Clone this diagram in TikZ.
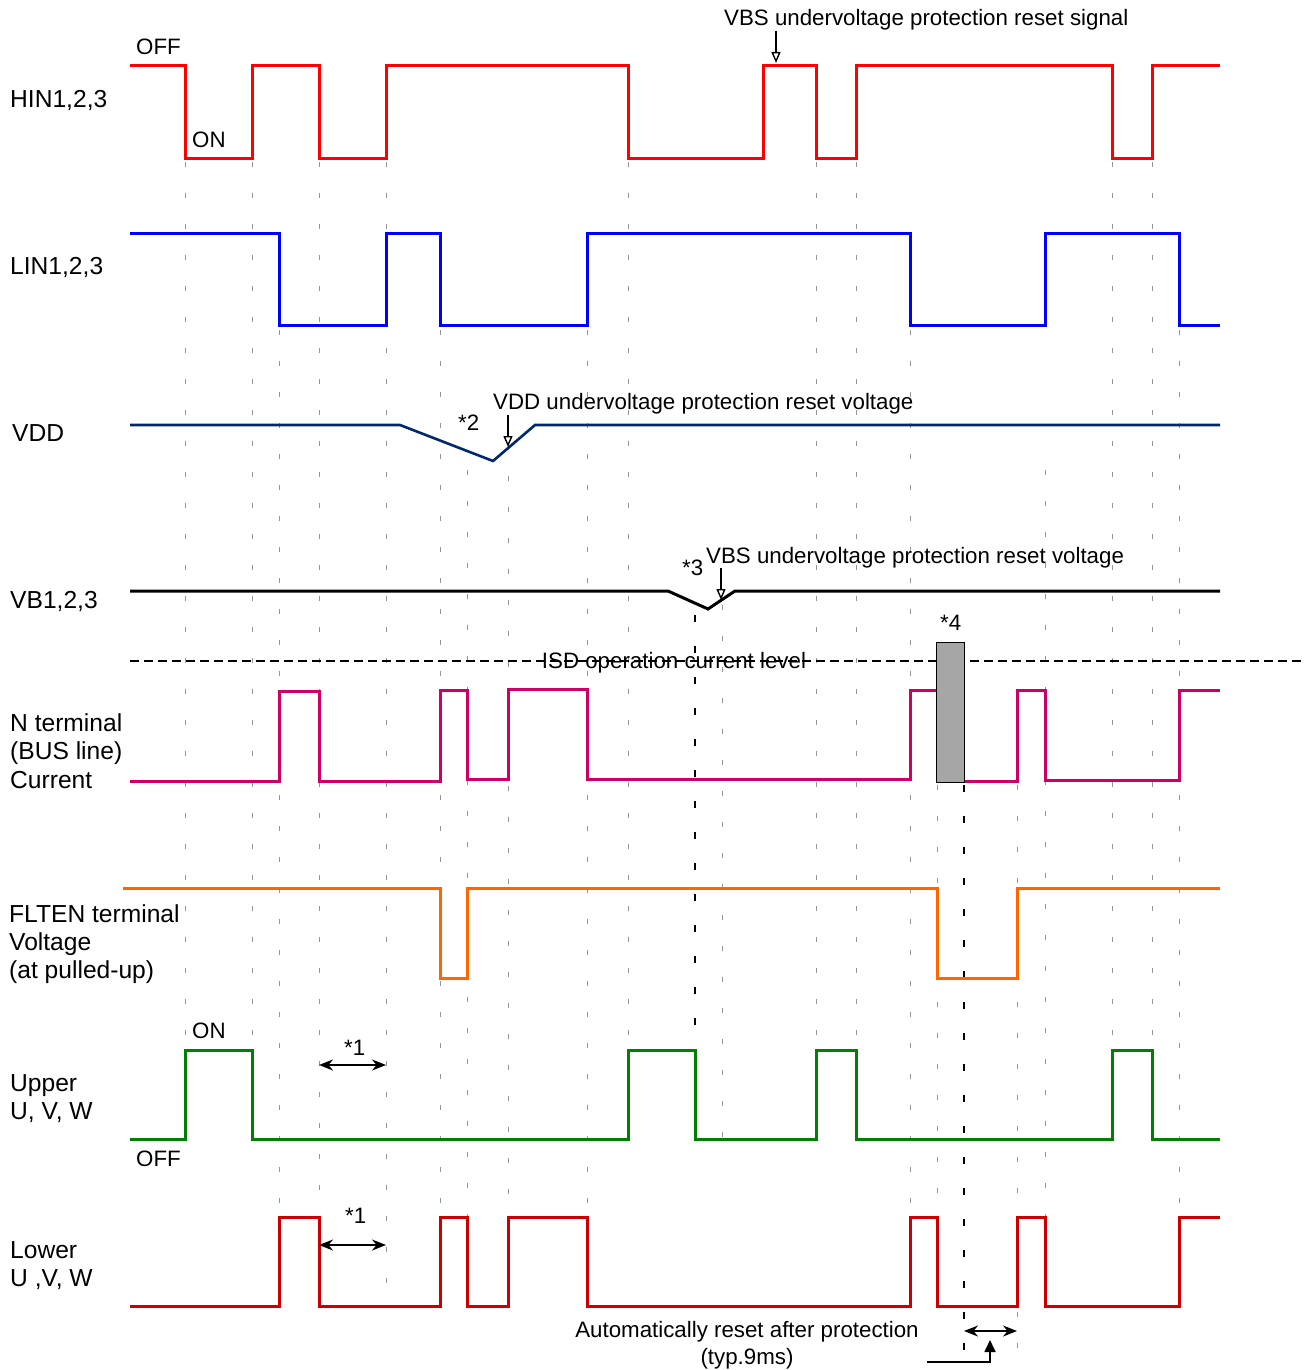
\documentclass[tikz,border=0pt]{standalone}
\usepackage{fontspec}
\setmainfont{Liberation Sans}
\usetikzlibrary{arrows.meta}
\definecolor{hinc}{RGB}{255,0,0}
\definecolor{linc}{RGB}{0,0,255}
\definecolor{vddc}{RGB}{0,40,110}
\definecolor{nc}{RGB}{204,0,102}
\definecolor{fltc}{RGB}{255,102,0}
\definecolor{upc}{RGB}{0,128,0}
\definecolor{loc}{RGB}{204,0,0}
\definecolor{boxc}{RGB}{166,166,166}
\definecolor{gridc}{RGB}{150,150,150}
\begin{document}
\begin{tikzpicture}[x=1pt,y=-1pt,
  sig/.style={line width=3pt},
  lbl/.style={font=\fontsize{22.3}{26}\selectfont, inner sep=0pt, anchor=base west},
  llbl/.style={font=\fontsize{24.6}{28}\selectfont, inner sep=0pt, anchor=base west},
  clbl/.style={font=\fontsize{22.3}{26}\selectfont, inner sep=0pt, anchor=base},
  gridln/.style={gridc, line width=1pt, dash pattern=on 5pt off 26pt},
  bgridln/.style={black, line width=2pt, dash pattern=on 7pt off 24pt},
  openarr/.style={line width=1.4pt, -{Triangle[open,length=11pt,width=9pt]}},
  dblarr/.style={line width=2pt, {Stealth[length=14pt,width=11pt]}-{Stealth[length=14pt,width=11pt]}}]
\useasboundingbox (0,0) rectangle (1307,1370);

% ---- gray reference lines ----
\foreach \x/\a/\b in {185/162/1050, 252/162/1050, 279/330/1217, 319/162/1306, 386/162/1306,
  440/330/1306, 467/470/1306, 508/445/1306, 587/330/1306, 628/162/1050, 722/605/1139,
  816/162/1050, 856/162/1050, 910/330/1217, 937/785/1306, 1017/785/1360, 1045/470/1217,
  1112/162/1050, 1152/162/1050, 1179/330/1217}
  \draw[gridln] (\x,\a) -- (\x,\b);
\draw[bgridln] (695,615) -- (695,1139);
\draw[bgridln] (964,785) -- (964,1362);

% ---- ISD level ----
\draw[black, line width=1.2pt, dash pattern=on 9pt off 5pt] (130,661) -- (1305,661);
\node[clbl] (isd) at (674,668) {ISD operation current level};

% ---- HIN ----
\draw[sig,hinc] (130,66) -- (185,66) -- (185,158) -- (252,158) -- (252,66) -- (319,66) -- (319,158)
  -- (386,158) -- (386,66) -- (628,66) -- (628,158) -- (763,158) -- (763,66) -- (816,66) -- (816,158)
  -- (856,158) -- (856,66) -- (1112,66) -- (1112,158) -- (1152,158) -- (1152,66) -- (1220,66);
\node[llbl] (hin) at (10,108) {HIN1,2,3};
\node[lbl] (off1) at (136,55) {OFF};
\node[lbl] (on1) at (192,147) {ON};
\node[lbl] (vbssig) at (724,26) {VBS undervoltage protection reset signal};
\coordinate (a1s) at (776,31);
\coordinate (a1e) at (776,63);
\draw[openarr] (a1s) -- (a1e);

% ---- LIN ----
\draw[sig,linc] (130,233) -- (279,233) -- (279,325) -- (386,325) -- (386,233) -- (440,233) -- (440,325)
  -- (587,325) -- (587,233) -- (910,233) -- (910,325) -- (1045,325) -- (1045,233) -- (1179,233)
  -- (1179,325) -- (1220,325);
\node[llbl] (lin) at (10,274) {LIN1,2,3};

% ---- VDD ----
\draw[vddc, line width=2.6pt] (130,425) -- (400,425) -- (493,461) -- (535,425) -- (1220,425);
\node[llbl] (vdd) at (12,441) {VDD};
\node[lbl] (st2) at (458,430) {*2};
\node[lbl] (vddt) at (493,409) {VDD undervoltage protection reset voltage};
\coordinate (a2s) at (508,415);
\coordinate (a2e) at (508,447);
\draw[openarr] (a2s) -- (a2e);

% ---- VB ----
\draw[black, line width=3pt] (130,591) -- (668,591) -- (708,609) -- (735,591) -- (1220,591);
\node[llbl] (vb) at (10,608) {VB1,2,3};
\node[lbl] (st3) at (682,575) {*3};
\node[lbl] (vbst) at (706,563) {VBS undervoltage protection reset voltage};
\coordinate (a3s) at (721,568);
\coordinate (a3e) at (721,600);
\draw[openarr] (a3s) -- (a3e);

% ---- N terminal ----
\draw[sig,nc] (130,781) -- (279,781) -- (279,691) -- (319,691) -- (319,781) -- (440,781) -- (440,690)
  -- (467,690) -- (467,779) -- (508,779) -- (508,689) -- (587,689) -- (587,779) -- (910,779)
  -- (910,690) -- (937,690);
\draw[sig,nc] (964,781) -- (1017,781) -- (1017,690) -- (1045,690) -- (1045,780) -- (1179,780)
  -- (1179,690) -- (1220,690);
\draw[fill=boxc, draw=black, line width=1pt] (936,642) rectangle (964,782);
\node[lbl] (st4) at (940,630) {*4};
\node[llbl] (n1) at (10,731) {N terminal};
\node[llbl] (n2) at (10,759) {(BUS line)};
\node[llbl] (n3) at (10,788) {Current};

% ---- FLTEN ----
\draw[sig,fltc] (123,888) -- (440,888) -- (440,978) -- (467,978) -- (467,888) -- (937,888) -- (937,978)
  -- (1017,978) -- (1017,888) -- (1220,888);
\node[llbl] (f1) at (9,922) {FLTEN terminal};
\node[llbl] (f2) at (9,950) {Voltage};
\node[llbl] (f3) at (9,978) {(at pulled-up)};

% ---- Upper ----
\draw[sig,upc] (130,1139) -- (185,1139) -- (185,1050) -- (252,1050) -- (252,1139) -- (628,1139)
  -- (628,1050) -- (695,1050) -- (695,1139) -- (816,1139) -- (816,1050) -- (856,1050) -- (856,1139)
  -- (1112,1139) -- (1112,1050) -- (1152,1050) -- (1152,1139) -- (1220,1139);
\node[llbl] (u1) at (10,1091) {Upper};
\node[llbl] (u2) at (10,1119) {U, V, W};
\node[lbl] (on2) at (192,1038) {ON};
\node[lbl] (off2) at (136,1166) {OFF};
\node[lbl] (st1a) at (344,1055) {*1};
\coordinate (d1s) at (319,1065);
\coordinate (d1e) at (386,1065);
\draw[dblarr] (d1s) -- (d1e);

% ---- Lower ----
\draw[sig,loc] (130,1306) -- (279,1306) -- (279,1217) -- (319,1217) -- (319,1306) -- (440,1306)
  -- (440,1217) -- (467,1217) -- (467,1306) -- (508,1306) -- (508,1217) -- (587,1217) -- (587,1306)
  -- (910,1306) -- (910,1217) -- (937,1217) -- (937,1306) -- (1017,1306) -- (1017,1217) -- (1045,1217)
  -- (1045,1306) -- (1179,1306) -- (1179,1217) -- (1220,1217);
\node[llbl] (l1) at (10,1258) {Lower};
\node[llbl] (l2) at (10,1286) {U ,V, W};
\node[lbl] (st1b) at (345,1223) {*1};
\coordinate (d2s) at (319,1245);
\coordinate (d2e) at (386,1245);
\draw[dblarr] (d2s) -- (d2e);

% ---- auto reset ----
\node[clbl] (ar1) at (747,1337) {Automatically reset after protection};
\node[clbl] (ar2) at (747,1364) {(typ.9ms)};
\coordinate (d3s) at (964,1331);
\coordinate (d3e) at (1017,1331);
\draw[dblarr] (d3s) -- (d3e);
\coordinate (p1) at (927,1362);
\coordinate (p2) at (990,1362);
\coordinate (p3) at (990,1340);
\draw[line width=1.8pt, -{Triangle[length=12pt,width=11pt]}] (p1) -- (p2) -- (p3);
\end{tikzpicture}
\end{document}
